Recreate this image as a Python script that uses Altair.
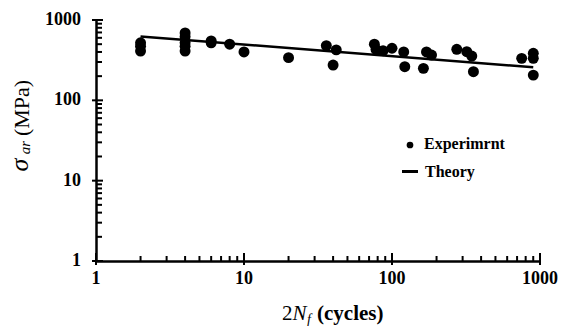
import altair as alt
import pandas as pd

# Experimental data (2N_f cycles, stress amplitude MPa)
exp_cycles = [2, 2, 2, 4, 4, 4, 4, 4, 6, 6, 8, 10, 20, 36, 40, 42, 76, 78, 87, 100,
              120, 122, 163, 171, 185, 274, 320, 346, 355, 752, 901, 901, 901]
exp_stress = [520, 470, 410, 690, 620, 520, 470, 410, 550, 520, 500, 400, 340, 480, 275, 425, 500, 430, 415, 445,
              400, 262, 250, 400, 366, 432, 403, 356, 227, 333, 385, 333, 206]

# Theory line
theory_cycles = [2, 900]
theory_stress = [625, 258]

major_ticks = [1, 10, 100, 1000]
major_labels = ["1", "10", "100", "1000"]
minor_ticks = [2, 3, 4, 5, 6, 7, 8, 9, 20, 30, 40, 50, 60, 70, 80, 90,
               200, 300, 400, 500, 600, 700, 800, 900]

W, H = 444, 241
FONT = "Liberation Serif"

exp_df = pd.DataFrame({"cycles": exp_cycles, "stress": exp_stress})
th_df = pd.DataFrame({"cycles": theory_cycles, "stress": theory_stress})
maj_df = pd.DataFrame({"v": major_ticks, "lab": major_labels})
min_df = pd.DataFrame({"v": minor_ticks})

xs = alt.Scale(type="log", domain=[1, 1000], nice=False)
ys = alt.Scale(type="log", domain=[1, 1000], nice=False)

xaxis = alt.Axis(ticks=False, labels=False, grid=False, title=None,
                 domainColor="black", domainWidth=2.5)
yaxis = alt.Axis(ticks=False, labels=False, grid=False, title=None,
                 domainColor="black", domainWidth=2.5)

points = alt.Chart(exp_df).mark_circle(size=120, color="black", opacity=1).encode(
    x=alt.X("cycles:Q", scale=xs, axis=xaxis),
    y=alt.Y("stress:Q", scale=ys, axis=yaxis),
)

theory = alt.Chart(th_df).mark_line(color="black", strokeWidth=2.5).encode(
    x=alt.X("cycles:Q", scale=xs),
    y=alt.Y("stress:Q", scale=ys),
)

# tick marks: major ticks cross the axis, minor ticks point inward
x_major = alt.Chart(maj_df).mark_rule(color="black", strokeWidth=2).encode(
    x=alt.X("v:Q", scale=xs), y=alt.value(H - 8), y2=alt.value(H + 4))
x_minor = alt.Chart(min_df).mark_rule(color="black", strokeWidth=2).encode(
    x=alt.X("v:Q", scale=xs), y=alt.value(H - 5), y2=alt.value(H))
y_major = alt.Chart(maj_df).mark_rule(color="black", strokeWidth=2).encode(
    y=alt.Y("v:Q", scale=ys), x=alt.value(-4), x2=alt.value(7))
y_minor = alt.Chart(min_df).mark_rule(color="black", strokeWidth=2).encode(
    y=alt.Y("v:Q", scale=ys), x=alt.value(0), x2=alt.value(6))

# tick labels (bold serif)
bold_style = dict(font=FONT, fontSize=18, fontWeight="bold", color="black")
x_labels = alt.Chart(maj_df).mark_text(align="center", baseline="alphabetic", **bold_style).encode(
    x=alt.X("v:Q", scale=xs), y=alt.value(H + 23), text="lab:N")
y_labels = alt.Chart(maj_df).mark_text(align="right", baseline="middle", **bold_style).encode(
    y=alt.Y("v:Q", scale=ys), x=alt.value(-15), text="lab:N")


def label(text, x, y, size, style="normal", weight="normal", angle=0, align="left",
          baseline="alphabetic"):
    df = pd.DataFrame({"t": [text]})
    return alt.Chart(df).mark_text(
        font=FONT, fontSize=size, fontStyle=style, fontWeight=weight,
        angle=angle, align=align, baseline=baseline, color="black"
    ).encode(x=alt.value(x), y=alt.value(y), text="t:N")


# y-axis title: sigma_ar (MPa)
y_title = [
    label("σ", -68, 145, 26, style="italic", angle=270, align="center"),
    label("ar", -66, 127.5, 15, style="italic", angle=270, align="center"),
    label("(MPa)", -67, 88, 22, angle=270, align="center"),
]
# x-axis title: 2N_f (cycles)
x_title = [
    label("2", 186, 300, 21),
    label("N", 196.5, 300, 21, style="italic"),
    label("f", 211, 304, 14, style="italic"),
    label("(cycles)", 221, 300, 21, weight="bold"),
]

# legend
one = pd.DataFrame({"a": [0]})
leg_dot = alt.Chart(one).mark_circle(size=45, color="black", opacity=1).encode(
    x=alt.value(314), y=alt.value(125))
leg_line = alt.Chart(one).mark_rule(color="black", strokeWidth=3).encode(
    x=alt.value(306), x2=alt.value(322), y=alt.value(151.5))
leg_text = [
    label("Experimrnt", 328, 129, 16, weight="bold"),
    label("Theory", 329, 156.5, 16, weight="bold"),
]

chart = alt.layer(
    points, theory, x_major, x_minor, y_major, y_minor, x_labels, y_labels,
    leg_dot, leg_line, *leg_text, *y_title, *x_title
).properties(
    width=W, height=H,
    autosize=alt.AutoSizeParams(type="none"),
    padding={"left": 96, "top": 20, "right": 29, "bottom": 65},
    background="white",
).configure_view(stroke=None)

chart.save("out.html", embed_options={"renderer": "svg", "actions": False})
